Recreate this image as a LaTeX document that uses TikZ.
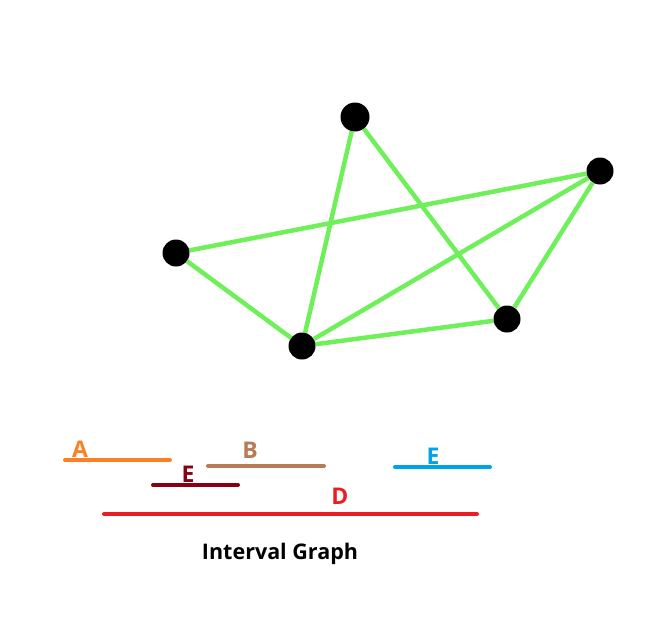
\documentclass[tikz,border=0pt]{standalone}
\usepackage{fontspec}
\setmainfont{Open Sans}
\usetikzlibrary{backgrounds}
\definecolor{edgegreen}{RGB}{111,240,90}
\definecolor{ivorange}{RGB}{255,127,39}
\definecolor{ivbrown}{RGB}{185,122,87}
\definecolor{ivmaroon}{RGB}{136,0,21}
\definecolor{ivblue}{RGB}{0,162,232}
\definecolor{ivred}{RGB}{237,28,36}
\begin{document}
\begin{tikzpicture}[x=1pt,y=-1pt,
    vertex/.style={circle,fill=black,inner sep=0pt,minimum size=27pt},
    edge/.style={edgegreen,line width=4.5pt},
    interval/.style={line width=4pt,line cap=round},
    ivlabel/.style={font=\fontsize{23}{23}\selectfont\bfseries,inner sep=0pt}]
    \useasboundingbox (0,0) rectangle (660,626);
    % vertices
    \node[vertex,minimum size=29pt] (top) at (355,117) {};
    \node[vertex] (right) at (600,171) {};
    \node[vertex] (left) at (176,253) {};
    \node[vertex] (bottom) at (302,346) {};
    \node[vertex] (lower) at (507,319) {};
    \begin{scope}[on background layer]
        \draw[edge] (top) -- (bottom);
        \draw[edge] (top) -- (lower);
        \draw[edge] (left) -- (right);
        \draw[edge] (left) -- (bottom);
        \draw[edge] (bottom) -- (right);
        \draw[edge] (bottom) -- (lower);
        \draw[edge] (lower) -- (right);
    \end{scope}
    % intervals
    \draw[interval,ivorange] (65,460) -- (170,460);
    \draw[interval,ivbrown] (208,466) -- (324,466);
    \draw[interval,ivmaroon] (153,485) -- (238,485);
    \draw[interval,ivblue] (395,467) -- (490,467);
    \draw[interval,ivred] (104,514) -- (477,514);
    \node[ivlabel,ivorange] (labA) at (80,449) {A};
    \node[ivlabel,ivbrown] (labB) at (250,450) {B};
    \node[ivlabel,ivmaroon] (labE1) at (188,474) {E};
    \node[ivlabel,ivblue] (labE2) at (433,456) {E};
    \node[ivlabel,ivred] (labD) at (340,496) {D};
    \node[font=\fontsize{21.5}{21.5}\selectfont\bfseries,inner sep=0pt] (title) at (280,554) {Interval Graph};
\end{tikzpicture}
\end{document}
